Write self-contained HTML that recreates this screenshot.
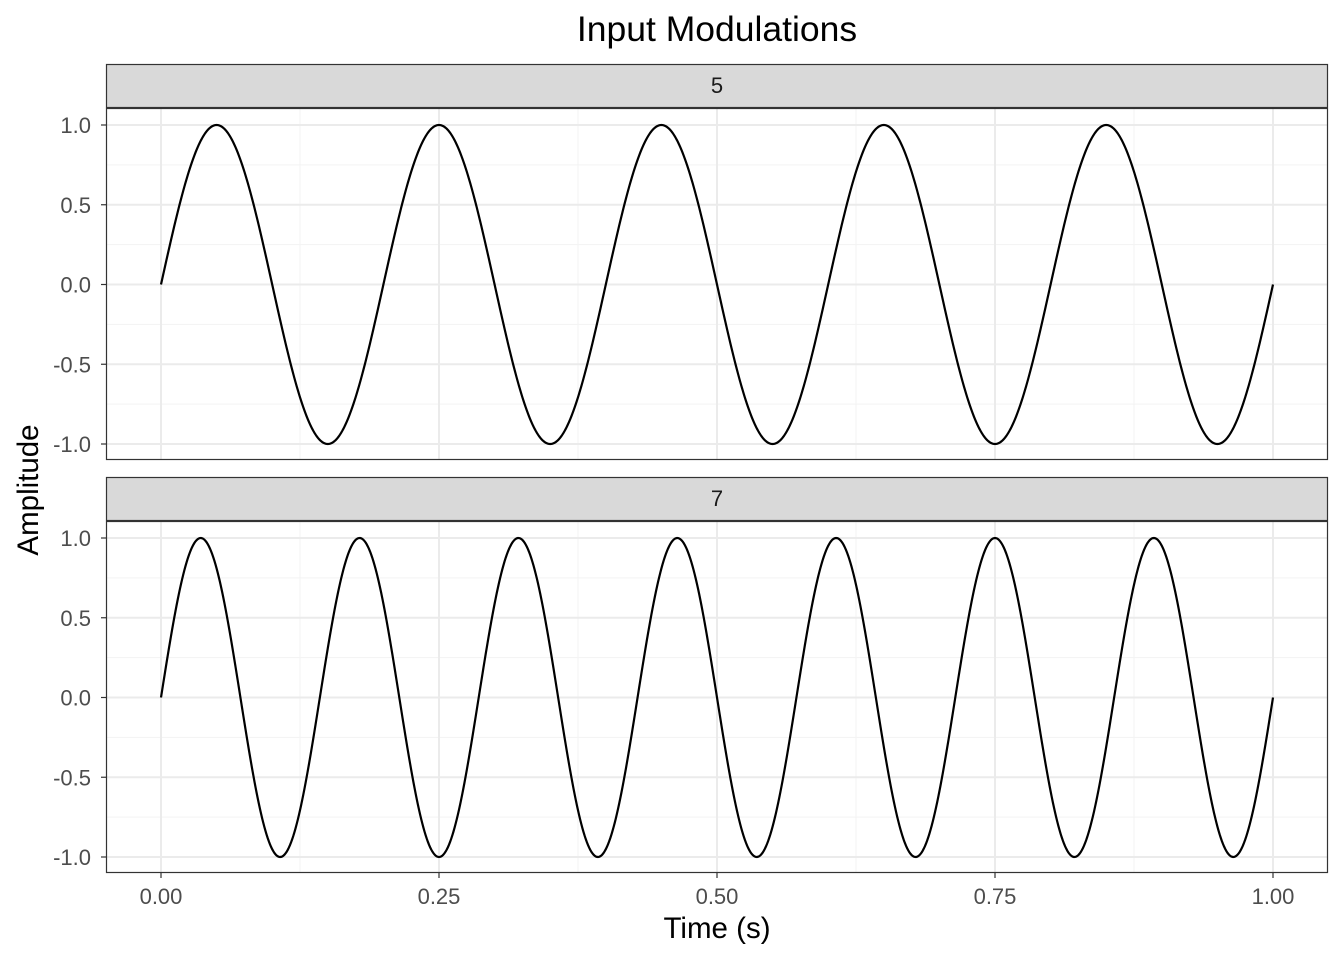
<!DOCTYPE html>
<html><head><meta charset="utf-8"><style>
body{margin:0;background:#fff;}
svg{display:block;font-family:"Liberation Sans",sans-serif;}
</style></head><body>
<svg id="chart" width="1344" height="960" viewBox="0 0 1344 960">
<text x="717" y="41" text-anchor="middle" font-size="35.5" fill="#000">Input Modulations</text>
<text x="0" y="0" transform="translate(38,490) rotate(-90)" text-anchor="middle" font-size="29.5" fill="#000">Amplitude</text>
<text x="717" y="938" text-anchor="middle" font-size="29.5" fill="#000">Time (s)</text>
<g id="panels"></g>
</svg>
<script>
const facetLabels = ["5", "7"];
const frequencies = [5, 7];
const xTicks = [0, 0.25, 0.5, 0.75, 1];
const xTickLabels = ["0.00", "0.25", "0.50", "0.75", "1.00"];
const yTicks = [-1, -0.5, 0, 0.5, 1];
const yTickLabels = ["-1.0", "-0.5", "0.0", "0.5", "1.0"];

const NS = "http://www.w3.org/2000/svg";
const g = document.getElementById("panels");
function el(tag, attrs, parent) {
  const e = document.createElementNS(NS, tag);
  for (const k in attrs) e.setAttribute(k, attrs[k]);
  (parent || g).appendChild(e);
  return e;
}
const L = 106, R = 1328;
const xs = v => 161 + v * (1273 - 161);
const panelTops = [64, 477];
facetLabels.forEach((lab, i) => {
  const st = panelTops[i];
  const pt = st + 44, pb = pt + 352;
  const y1 = pt + 17, ym1 = pt + 336;
  const ys = v => y1 + (1 - v) / 2 * (ym1 - y1);
  const grp = el("g", {});
  
  
  const bg = el("rect", {x: L, y: pt, width: R - L, height: pb - pt, fill: "#fff"}, grp);
  
  
  for (let k = 0; k < xTicks.length - 1; k++) {
    const m = (xTicks[k] + xTicks[k + 1]) / 2;
    const ln = el("line", {x1: xs(m), x2: xs(m), y1: pt, y2: pb, stroke: "#f3f3f3", "stroke-width": 1}, grp);
    
    
  }
  for (let k = 0; k < yTicks.length - 1; k++) {
    const m = (yTicks[k] + yTicks[k + 1]) / 2;
    const ln = el("line", {x1: L, x2: R, y1: ys(m), y2: ys(m), stroke: "#f3f3f3", "stroke-width": 1}, grp);
    
    
  }
  xTicks.forEach(t => {
    const ln = el("line", {x1: xs(t), x2: xs(t), y1: pt, y2: pb, stroke: "#ebebeb", "stroke-width": 2}, grp);
    
    
  });
  yTicks.forEach((t, k) => {
    const ln = el("line", {x1: L, x2: R, y1: ys(t), y2: ys(t), stroke: "#ebebeb", "stroke-width": 2}, grp);
    
    
    const tk = el("line", {x1: L - 5, x2: L, y1: ys(t), y2: ys(t), stroke: "#333", "stroke-width": 1.2}, grp);
    
    
    const tx = el("text", {x: L - 15, y: ys(t) + 8, "text-anchor": "end", "font-size": 22, fill: "#4d4d4d"}, grp);
    tx.textContent = yTickLabels[k];
    
    
  });
  const f = frequencies[i];
  let d = "";
  const N = 1000;
  for (let n = 0; n <= N; n++) {
    const t = n / N;
    d += (n ? "L" : "M") + xs(t).toFixed(2) + "," + ys(Math.sin(2 * Math.PI * f * t)).toFixed(2);
  }
  const p = el("path", {d: d, fill: "none", stroke: "#000", "stroke-width": 2.2}, grp);
  
  
  const bd = el("rect", {x: L + 0.5, y: pt + 0.5, width: R - L - 1, height: pb - pt - 1, fill: "none", stroke: "#333", "stroke-width": 1.2}, grp);
  
  
  const sr = el("rect", {x: L + 0.5, y: st + 0.5, width: R - L - 1, height: 43, fill: "#d9d9d9", stroke: "#333", "stroke-width": 1.2}, grp);
  
  
  const stx = el("text", {x: (L + R) / 2, y: st + 29, "text-anchor": "middle", "font-size": 22, fill: "#1a1a1a"}, grp);
  stx.textContent = lab;
  
  
  if (i === facetLabels.length - 1) {
    xTicks.forEach((t, k) => {
      const tk = el("line", {x1: xs(t), x2: xs(t), y1: pb, y2: pb + 5, stroke: "#333", "stroke-width": 1.2}, grp);
      
      
      const tx = el("text", {x: xs(t), y: pb + 31, "text-anchor": "middle", "font-size": 22, fill: "#4d4d4d"}, grp);
      tx.textContent = xTickLabels[k];
      
      
    });
  }
});
</script>
</body></html>
